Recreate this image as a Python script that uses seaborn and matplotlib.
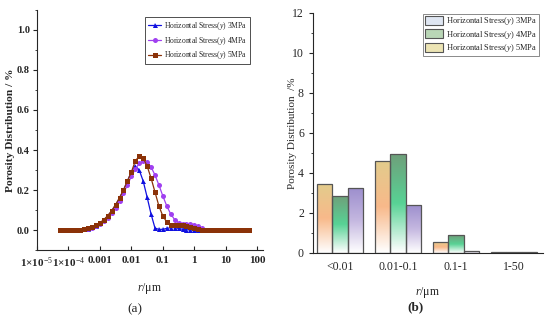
import numpy as np
import pandas as pd
import matplotlib
matplotlib.use("Agg")
import matplotlib.pyplot as plt
import seaborn as sns
from matplotlib.colors import LinearSegmentedColormap
from matplotlib.patches import Patch
from matplotlib.ticker import MultipleLocator, LogLocator, NullFormatter

# ---- data ----
series_names = ["Horizontal Stress($\\it{y}$) 3MPa",
                "Horizontal Stress($\\it{y}$) 4MPa",
                "Horizontal Stress($\\it{y}$) 5MPa"]

# log10 of pore radius r (um)
log_r = [-4.25, -4.125, -4.0, -3.875, -3.75, -3.625, -3.5, -3.375, -3.25, -3.125,
         -3.0, -2.875, -2.75, -2.625, -2.5, -2.375, -2.25, -2.125, -2.0, -1.875,
         -1.75, -1.625, -1.5, -1.375, -1.25, -1.125, -1.0, -0.875, -0.75, -0.625,
         -0.5, -0.375, -0.25, -0.125, 0.0, 0.125, 0.25, 0.375, 0.5, 0.625,
         0.75, 0.875, 1.0, 1.125, 1.25, 1.375, 1.5, 1.625, 1.75]

dist_3mpa = [0, 0, 0, 0, 0, 0.001, 0.003, 0.007, 0.013, 0.022,
             0.034, 0.05, 0.07, 0.095, 0.125, 0.16, 0.2, 0.245, 0.29, 0.32,
             0.3, 0.245, 0.165, 0.08, 0.01, 0.003, 0.004, 0.008, 0.012, 0.012,
             0.008, 0.004, 0.002, 0, 0, 0, 0, 0, 0, 0,
             0, 0, 0, 0, 0, 0, 0, 0, 0]
dist_4mpa = [0, 0, 0, 0, 0, 0.001, 0.003, 0.006, 0.012, 0.02,
             0.03, 0.044, 0.062, 0.085, 0.112, 0.145, 0.183, 0.225, 0.268, 0.305,
             0.333, 0.345, 0.34, 0.315, 0.275, 0.225, 0.17, 0.12, 0.08, 0.052,
             0.036, 0.03, 0.03, 0.03, 0.027, 0.018, 0.008, 0.002, 0, 0,
             0, 0, 0, 0, 0, 0, 0, 0, 0]
dist_5mpa = [0, 0, 0, 0, 0, 0.001, 0.004, 0.008, 0.015, 0.024,
             0.036, 0.052, 0.072, 0.097, 0.127, 0.162, 0.2, 0.245, 0.29, 0.345,
             0.37, 0.36, 0.32, 0.26, 0.19, 0.12, 0.07, 0.04, 0.027, 0.024,
             0.025, 0.024, 0.02, 0.014, 0.008, 0.003, 0.001, 0, 0, 0,
             0, 0, 0, 0, 0, 0, 0, 0, 0]

x_ticks = [1e-5, 1e-4, 1e-3, 1e-2, 1e-1, 1, 10, 100]
x_tick_labels = ["1×10$^{-5}$", "1×10$^{-4}$", "0.001", "0.01", "0.1", "1", "10", "100"]

bins = ["<0.01", "0.01-0.1", "0.1-1", "1-50"]
bar_3mpa = [3.45, 4.62, 0.55, 0.07]
bar_4mpa = [2.85, 4.95, 0.88, 0.07]
bar_5mpa = [3.25, 2.40, 0.10, 0.06]

# ---- style ----
sns.set_style("ticks")
plt.rcParams["font.family"] = ["Liberation Serif", "DejaVu Serif"]
plt.rcParams["mathtext.fontset"] = "custom"
plt.rcParams["mathtext.rm"] = "Liberation Serif"
plt.rcParams["mathtext.it"] = "Liberation Serif:italic"
plt.rcParams["mathtext.bf"] = "Liberation Serif:bold"

fig = plt.figure(figsize=(5.5, 3.21), dpi=100)
ax1 = fig.add_axes([0.067, 0.221, 0.411, 0.748])
ax2 = fig.add_axes([0.569, 0.212, 0.418, 0.748])

# ---- (a) distribution curves ----
r = 10 ** np.array(log_r)
curves = pd.DataFrame({"r": np.tile(r, 3),
                       "dist": dist_3mpa + dist_4mpa + dist_5mpa,
                       "series": np.repeat(series_names, len(r))})
line_colors = ["#1010e0", "#a040f0", "#8b3208"]
markers = ["^", "o", "s"]
for name, col, mk in zip(series_names, line_colors, markers):
    sns.lineplot(data=curves[curves["series"] == name], x="r", y="dist",
                 color=col, marker=mk, markersize=3.6, markeredgewidth=0,
                 linewidth=0.9, label=name, ax=ax1)

ax1.set_xscale("log")
ax1.set_xlim(1.3e-5, 150)
ax1.set_ylim(-0.1, 1.1)
ax1.set_xticks(x_ticks)
ax1.set_xticklabels(x_tick_labels, fontweight="bold")
ax1.xaxis.set_minor_locator(LogLocator(base=10, subs=np.arange(2, 10)))
ax1.xaxis.set_minor_formatter(NullFormatter())
ax1.yaxis.set_major_locator(MultipleLocator(0.2))
ax1.yaxis.set_minor_locator(MultipleLocator(0.1))
for lab in ax1.get_yticklabels():
    lab.set_fontweight("bold")
ax1.tick_params(axis="x", which="major", direction="in", length=3, labelsize=8, pad=4)
ax1.tick_params(axis="x", which="minor", direction="in", length=1.5)
ax1.tick_params(axis="y", which="major", direction="out", length=3, labelsize=7.5, pad=2)
ax1.tick_params(axis="y", which="minor", direction="out", length=1.5)
ax1.set_xlabel("$r$/μm", fontsize=8.5)
ax1.xaxis.set_label_coords(0.5, -0.13)
ax1.set_ylabel("Porosity Distribution / %", fontsize=8.2, fontweight="bold")
ax1.yaxis.set_label_coords(-0.096, 0.5)
sns.despine(ax=ax1)
leg1 = ax1.legend(loc="upper right", bbox_to_anchor=(0.96, 0.985), fontsize=5.5,
                  frameon=True, fancybox=False, edgecolor="black",
                  handlelength=1.7, handletextpad=0.4, borderpad=0.35,
                  labelspacing=0.35)
leg1.get_frame().set_linewidth(0.6)

# ---- (b) grouped bars with vertical gradients ----
bars = pd.DataFrame({"bin": bins * 3,
                     "value": bar_3mpa + bar_4mpa + bar_5mpa,
                     "series": np.repeat(series_names, len(bins))})
sns.barplot(data=bars, x="bin", y="value", hue="series", order=bins,
            hue_order=series_names, width=0.8, legend=False, ax=ax2,
            edgecolor="#555555", linewidth=0.9)

gradients = [["#e2cc8c", "#f8b98a", "#ffffff"],
             ["#6f9f7a", "#58d295", "#ffffff"],
             ["#9c8ecd", "#c4b7e0", "#ffffff"]]
for cont, cols in zip(ax2.containers, gradients):
    cmap = LinearSegmentedColormap.from_list("g", cols[::-1])
    for p in cont.patches:
        x0, y0 = p.get_x(), p.get_y()
        w, h = p.get_width(), p.get_height()
        p.set_facecolor("none")
        p.set_zorder(3)
        grad = np.linspace(0, 1, 100).reshape(-1, 1)
        im = ax2.imshow(grad, cmap=cmap, origin="lower", aspect="auto",
                        extent=[x0, x0 + w, y0, y0 + h], zorder=2)
        im.set_clip_path(p)

ax2.set_xlim(-0.47, 3.5)
ax2.set_ylim(0, 12)
ax2.yaxis.set_major_locator(MultipleLocator(2))
ax2.yaxis.set_minor_locator(MultipleLocator(1))
ax2.tick_params(axis="y", which="major", direction="out", length=3, labelsize=8.5)
ax2.tick_params(axis="y", which="minor", direction="out", length=1.5)
ax2.tick_params(axis="x", length=0, labelsize=8.5, pad=6)
ax2.set_xlabel("$r$/μm", fontsize=8.5)
ax2.xaxis.set_label_coords(0.5, -0.135)
ax2.set_ylabel("Porosity Distribution  /%", fontsize=8)
ax2.yaxis.set_label_coords(-0.07, 0.5)
sns.despine(ax=ax2)

legend_faces = ["#dfe6f2", "#b9d6b6", "#ece4b4"]
handles = [Patch(facecolor=fc, edgecolor="#555555", linewidth=0.8, label=n)
           for fc, n in zip(legend_faces, series_names)]
leg2 = ax2.legend(handles=handles, loc="upper right", bbox_to_anchor=(0.985, 1.0),
                  fontsize=6, frameon=True, fancybox=False, edgecolor="#555555",
                  handlelength=2.2, handleheight=1.3, borderpad=0.2,
                  labelspacing=0.15, handletextpad=0.3, borderaxespad=0.1)
leg2.get_frame().set_linewidth(0.6)

fig.text(135 / 550, 1 - 309 / 321, "(a)", fontsize=9.5, ha="center", va="center")
fig.text(415 / 550, 1 - 307 / 321, "(b)", fontsize=9.5, fontweight="bold",
         ha="center", va="center")

fig.savefig("out.png", dpi=100)
